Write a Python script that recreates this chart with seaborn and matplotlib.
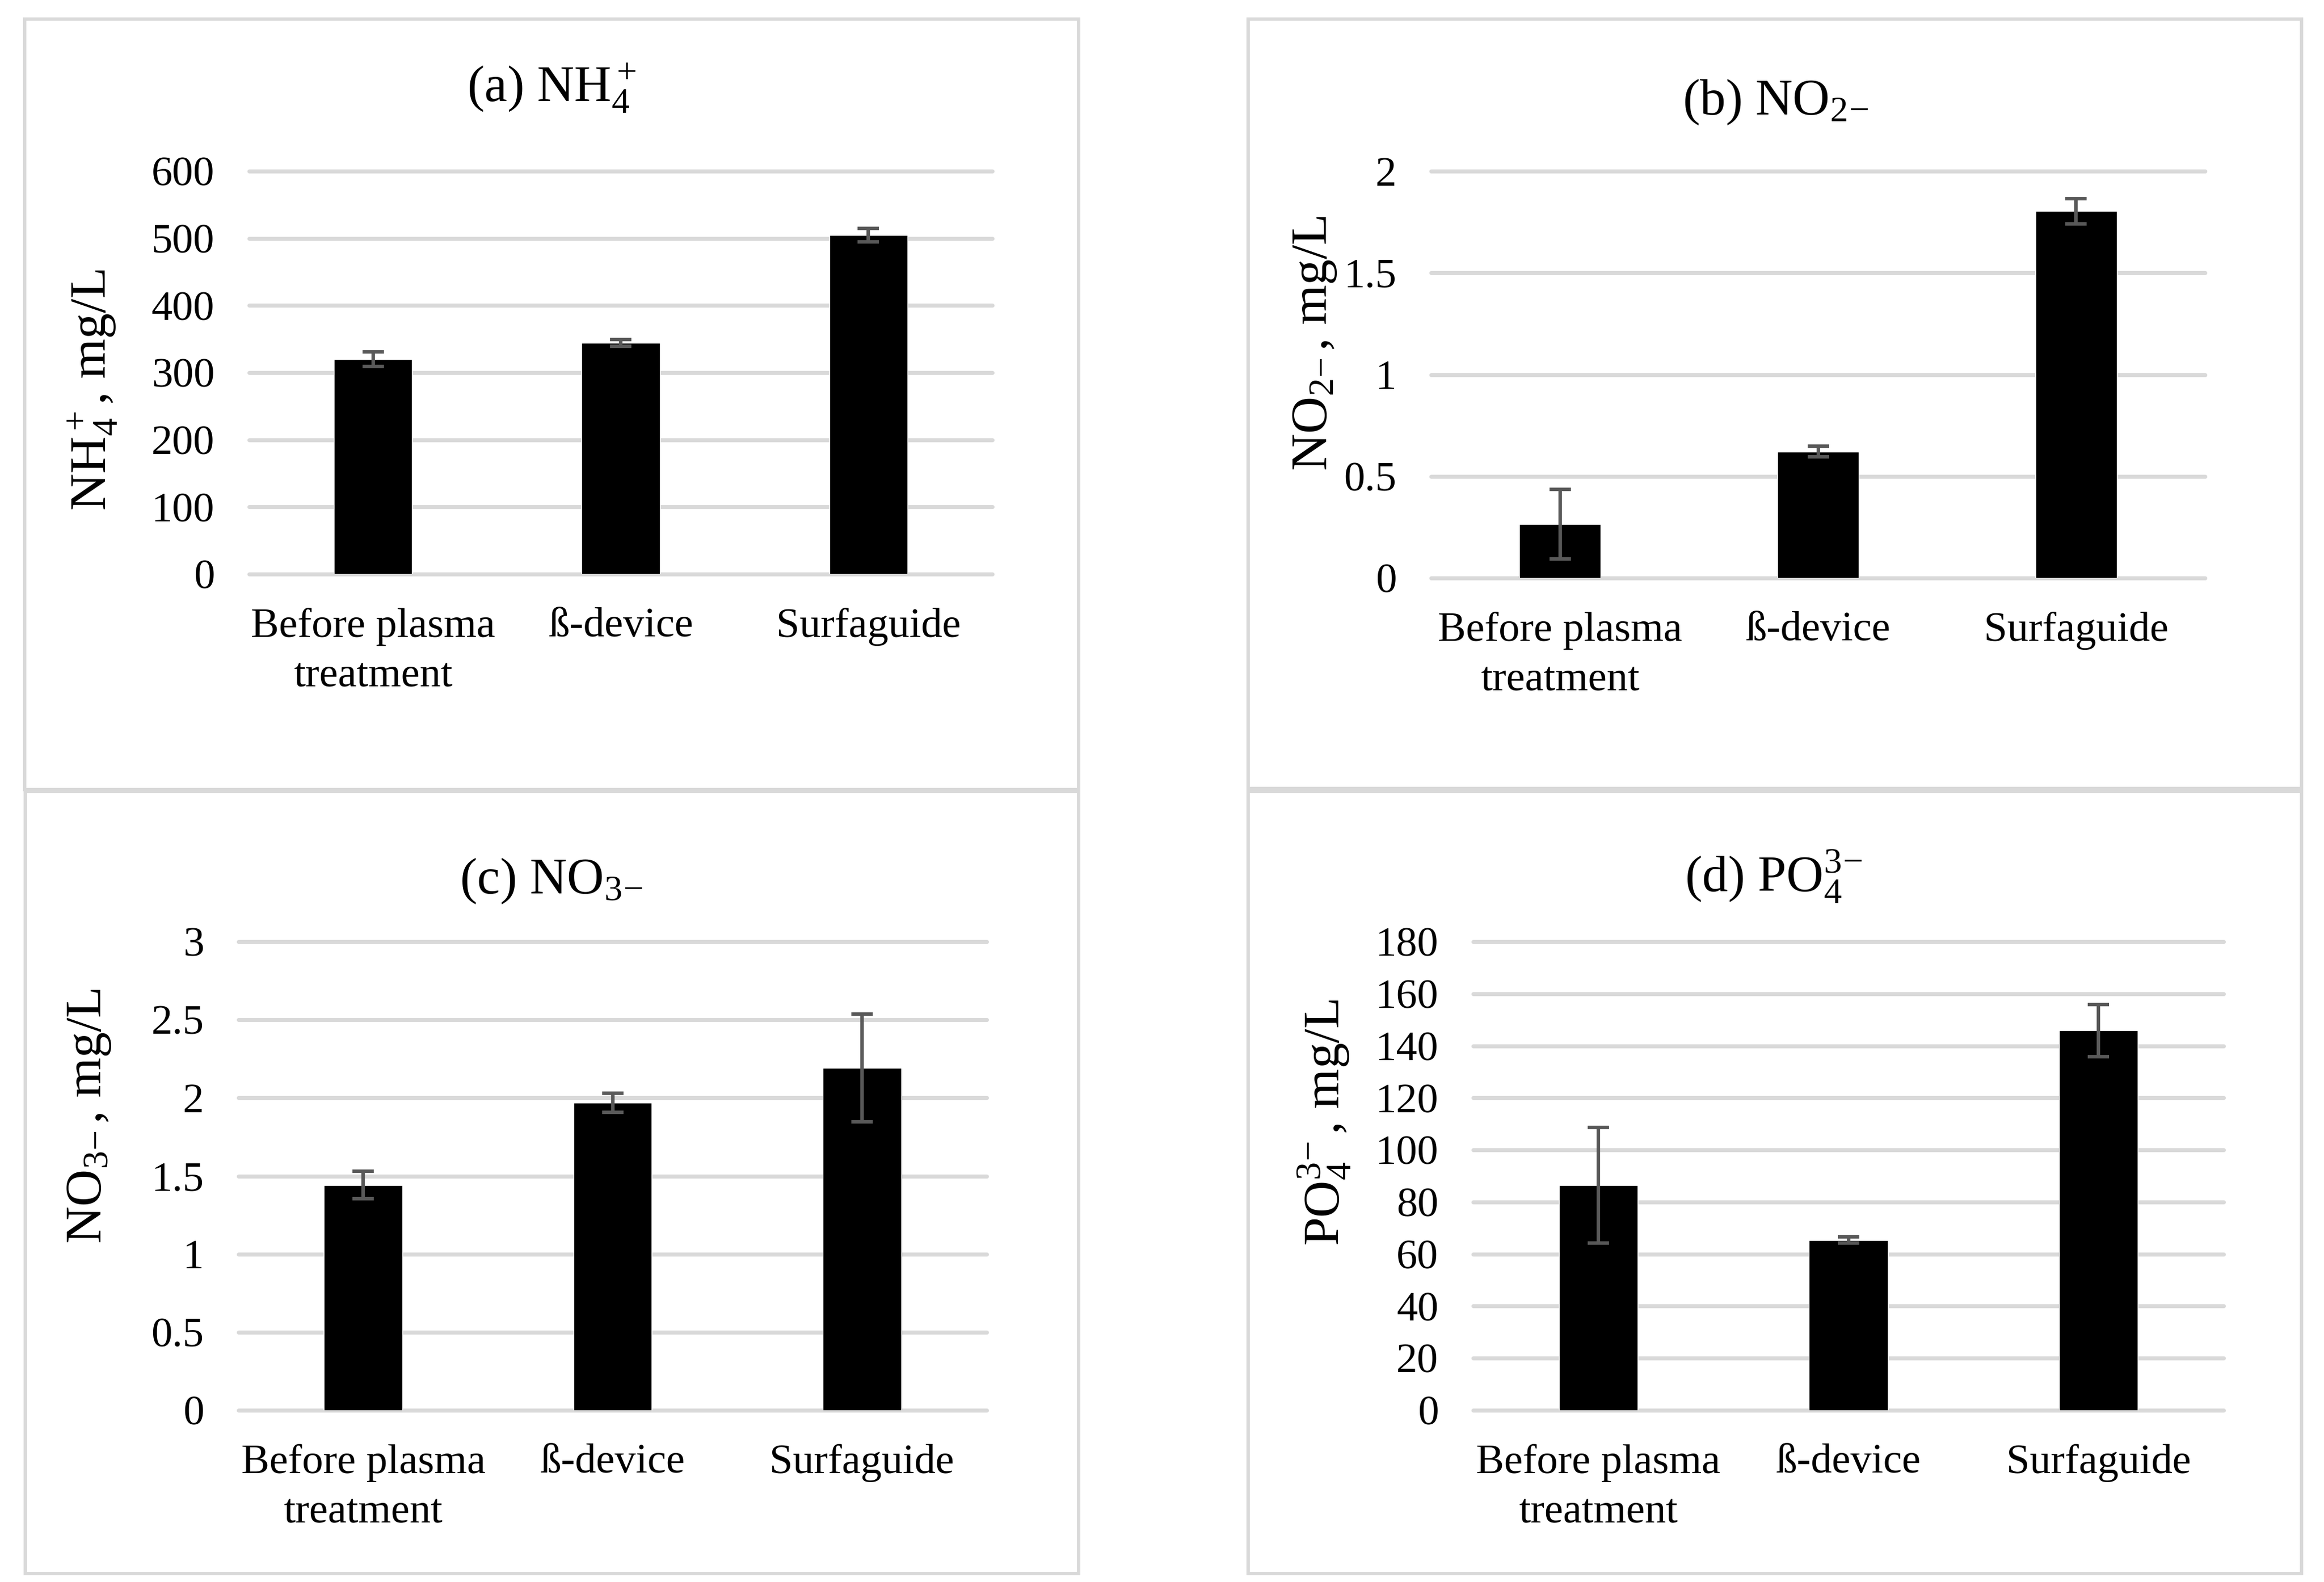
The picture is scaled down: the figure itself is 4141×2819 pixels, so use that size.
import numpy as np
import pandas as pd
import matplotlib
matplotlib.use("Agg")
import matplotlib.pyplot as plt
import seaborn as sns
from matplotlib.patches import Rectangle
from matplotlib.ticker import FuncFormatter, MultipleLocator

# ---------------- data ----------------
categories = ["Before plasma\ntreatment", "ß-device", "Surfaguide"]

nh4_mean = [320, 344, 505]
nh4_err = [11, 5, 10]

no2_mean = [0.265, 0.622, 1.803]
no2_err = [0.17, 0.027, 0.062]

no3_mean = [1.442, 1.969, 2.193]
no3_err = [0.087, 0.06, 0.345]

po4_mean = [86.4, 65.4, 145.9]
po4_err = [22.2, 1.2, 10.0]

titles = [r"(a) NH$_4^+$", r"(b) NO$_{2\!-}$", r"(c) NO$_{3\!-}$", r"(d) PO$_4^{3\!-}$"]
ylabels = [r"NH$_4^+$, mg/L", r"NO$_{2\!-}$, mg/L", r"NO$_{3\!-}$, mg/L", r"PO$_4^{3\!-}$, mg/L"]
ymaxes = [600, 2, 3, 180]
ysteps = [100, 0.5, 0.5, 20]

# ---------------- style ----------------
sns.set_theme(style="white")
plt.rcParams["font.family"] = ["Liberation Serif", "DejaVu Serif"]
plt.rcParams["mathtext.fontset"] = "custom"
plt.rcParams["mathtext.rm"] = "Liberation Serif"
plt.rcParams["mathtext.it"] = "Liberation Serif:italic"
plt.rcParams["mathtext.bf"] = "Liberation Serif:bold"
plt.rcParams["mathtext.default"] = "rm"

W, H = 4141, 2819
fig = plt.figure(figsize=(W / 100, H / 100), dpi=100)
fig.patch.set_facecolor("white")

GRID = "#d9d9d9"
ERR = "#595959"
TICK_FS = 54
TITLE_FS = 66

# layout in pixels: axes (left, right, top, bottom), title (x, baseline), ylabel centre, border
layout = [
    dict(ax=(444, 1768, 305, 1023), title=(983, 182), ylab=(166, 695), border=(44, 34, 1922, 1407)),
    dict(ax=(2550, 3929, 305, 1030), title=(3164, 204), ylab=(2343, 612), border=(2224, 34, 4101, 1405)),
    dict(ax=(425, 1758, 1678, 2513), title=(982, 1592), ylab=(159, 1989), border=(45, 1410, 1922, 2804)),
    dict(ax=(2625, 3962, 1678, 2513), title=(3160, 1589), ylab=(2360, 2000), border=(2224, 1410, 4101, 2804)),
]

means = [nh4_mean, no2_mean, no3_mean, po4_mean]
errs = [nh4_err, no2_err, no3_err, po4_err]

for i in range(4):
    L = layout[i]
    l, r, t, b = L["ax"]
    ax = fig.add_axes([l / W, 1 - b / H, (r - l) / W, (b - t) / H])
    df = pd.DataFrame({"cat": categories, "val": means[i]})
    sns.barplot(data=df, x="cat", y="val", color="black", width=0.315,
                saturation=1, errorbar=None, ax=ax, zorder=2)
    ax.errorbar(x=np.arange(len(categories)), y=means[i], yerr=errs[i], fmt="none",
                ecolor=ERR, elinewidth=4.5, capsize=13.5, capthick=4.5, zorder=3)
    ax.set_xlim(-0.5, 2.5)
    ax.set_ylim(0, ymaxes[i])
    ax.yaxis.set_major_locator(MultipleLocator(ysteps[i]))
    ax.yaxis.set_major_formatter(FuncFormatter(lambda v, p: f"{v:g}"))
    ax.grid(False)
    ax.yaxis.grid(True, color=GRID, linewidth=5.2)
    ax.set_axisbelow(True)
    for gl in ax.get_ygridlines():
        gl.set_clip_on(False)
    for s in ax.spines.values():
        s.set_visible(False)
    ax.set_facecolor("none")
    ax.tick_params(axis="y", length=0, pad=44.5, labelsize=TICK_FS, colors="black")
    ax.tick_params(axis="x", length=0, pad=43, labelsize=TICK_FS, colors="black")
    for lab in ax.get_xticklabels():
        lab.set_linespacing(1.4)
    ax.set_xlabel("")
    ax.set_ylabel("")
    tx, ty = L["title"]
    fig.text(tx / W, 1 - ty / H, titles[i], ha="center", va="baseline",
             fontsize=TITLE_FS, color="black")
    lx, ly = L["ylab"]
    fig.text(lx / W, 1 - ly / H, ylabels[i], ha="center", va="center", rotation=90,
             fontsize=TITLE_FS, color="black")
    x0, y0, x1, y1 = L["border"]
    fig.add_artist(Rectangle((x0 / W, 1 - y1 / H), (x1 - x0) / W, (y1 - y0) / H,
                             transform=fig.transFigure, fill=False, edgecolor=GRID,
                             linewidth=4.3))

fig.savefig("out.png", dpi=100, facecolor="white")
